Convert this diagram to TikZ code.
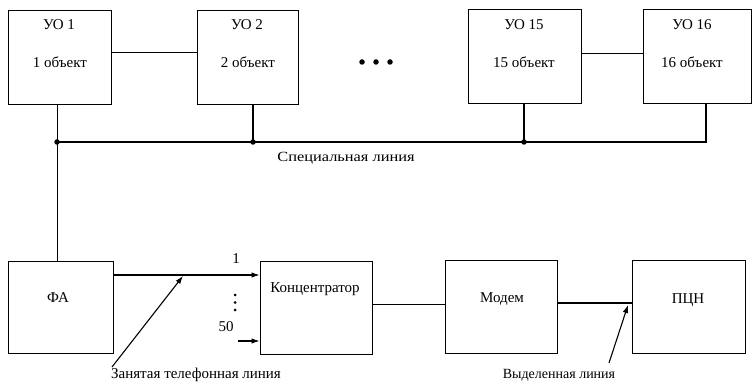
\documentclass[tikz,border=0pt]{standalone}
\usepackage{fontspec}
\setmainfont{Liberation Serif}
\newfontfamily\widefont[FakeStretch=1.17]{Liberation Serif}
\usetikzlibrary{arrows.meta}
\begin{document}
\begin{tikzpicture}[x=1pt,y=-1pt,
  box/.style={draw, line width=0.9pt, inner sep=0pt},
  txt/.style={inner sep=0pt, font=\fontsize{15}{17}\selectfont},
  lbl/.style={inner sep=0pt, font=\fontsize{14.5}{17}\selectfont},
  wire/.style={line width=0.9pt},
  bus/.style={line width=1.5pt},
  arr/.style={line width=1.1pt, -{Latex[length=8pt,width=5.5pt]}},
  jdot/.style={circle, fill, inner sep=0pt, minimum size=5.5pt}]
\useasboundingbox (0,0) rectangle (753,382);
% top row
\node[box, minimum width=103pt, minimum height=94pt] (u1) at (59.5,57) {};
\node[box, minimum width=101pt, minimum height=94pt] (u2) at (247.5,57) {};
\node[box, minimum width=113pt, minimum height=94pt] (u15) at (524.5,56.5) {};
\node[box, minimum width=108pt, minimum height=94pt] (u16) at (697,56.5) {};
\node[txt] (u1t) at (59,25) {УО 1};
\node[txt] (u1o) at (60,62) {1 объект};
\node[txt] (u2t) at (247,25) {УО 2};
\node[txt] (u2o) at (248,62) {2 объект};
\node[txt] (u15t) at (524,25) {УО 15};
\node[txt] (u15o) at (524,62) {15 объект};
\node[txt] (u16t) at (692,25) {УО 16};
\node[txt] (u16o) at (692,62) {16 объект};
\node[jdot] (d1) at (362,62) {};
\node[jdot] (d2) at (376,62) {};
\node[jdot] (d3) at (390,62) {};
\draw[wire] ([yshift=5pt]u1.east) -- ([yshift=5pt]u2.west);
\draw[wire] ([yshift=3pt]u15.east) -- ([yshift=3pt]u16.west);
% bus
\coordinate (b1) at (57,142);
\coordinate (b2) at (253,142);
\coordinate (b15) at (524,142);
\coordinate (b16) at (706,142);
\draw[bus] (b1) -- (b16) -- (u16.south -| b16);
\draw[bus] (u2.south -| b2) -- (b2);
\draw[bus] (u15.south -| b15) -- (b15);
\node[jdot] (j1) at (b1) {};
\node[jdot] (j2) at (b2) {};
\node[jdot] (j15) at (b15) {};
\node[inner sep=0pt, font=\widefont\fontsize{14}{16}\selectfont] (spec) at (346,158) {Специальная линия};
% bottom row
\node[box, minimum width=105pt, minimum height=92pt] (fa) at (60.5,307) {};
\node[box, minimum width=112pt, minimum height=93pt] (conc) at (316,307.5) {};
\node[box, minimum width=112pt, minimum height=93pt] (modem) at (501,306.5) {};
\node[box, minimum width=113pt, minimum height=93pt] (pcn) at (688.5,306.5) {};
\node[txt] (fat) at (58,298) {ФА};
\node[txt] (conct) at (315,289) {Концентратор};
\node[txt] (modemt) at (502,299) {Модем};
\node[txt] (pcnt) at (688,300) {ПЦН};
\draw[wire] (u1.south -| b1) -- (fa.north -| b1);
% inputs to concentrator
\coordinate (i1) at (260,275);
\coordinate (i50) at (238,341);
\draw[arr] (fa.east |- i1) -- (conc.west |- i1);
\draw[arr] (i50) -- (conc.west |- i50);
\node[txt] (n1) at (236,259) {1};
\node[txt] (n50) at (226,327) {50};
\node[jdot, minimum size=3pt] (v1) at (235,295) {};
\node[jdot, minimum size=3pt] (v2) at (235,302.5) {};
\node[jdot, minimum size=3pt] (v3) at (235,310) {};
\coordinate (cm) at (0,304);
\draw[wire] (conc.east |- cm) -- (modem.west |- cm);
\coordinate (mp) at (0,303);
\draw[line width=1.4pt] (modem.east |- mp) -- (pcn.west |- mp);
% labels with arrows
\node[lbl, font=\fontsize{15}{17}\selectfont] (busy) at (196,375) {Занятая телефонная линия};
\node[lbl, font=\fontsize{14}{17}\selectfont] (ded) at (559,375) {Выделенная линия};
\coordinate (bt) at (183,276);
\coordinate (dt) at (628,305);
\draw[arr] (112,367) -- (bt);
\draw[arr] (609,363) -- (dt);
\end{tikzpicture}
\end{document}
